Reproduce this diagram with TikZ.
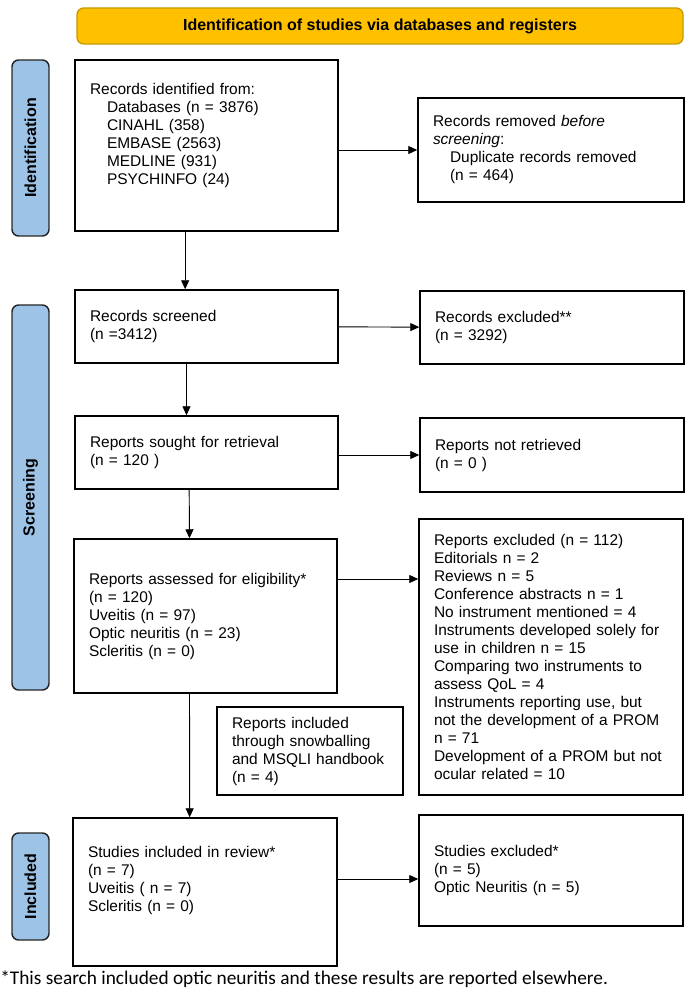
\documentclass[tikz,border=0pt]{standalone}
\usepackage{fontspec}
\setmainfont{Liberation Sans}
\newfontfamily\notefont{Carlito}
\usetikzlibrary{arrows.meta}

\newdimen\unitpx \unitpx=0.75pt
\newcommand\subind{\hspace*{17\unitpx}}
\definecolor{headgold}{HTML}{FFC000}
\definecolor{headedge}{HTML}{C49A00}
\definecolor{tabblue}{HTML}{9DC3E6}

\tikzset{
  x=0.75pt, y=-0.75pt, % one unit is one pixel, y runs down
  box/.style={draw, line width=1.1pt, align=left, inner xsep=15\unitpx, inner ysep=0pt,
    font=\fontsize{11.6}{13.5}\selectfont},
  head/.style={draw=headedge, fill=headgold, line width=1pt, rounded corners=5pt,
    minimum width=606\unitpx, minimum height=36\unitpx, font=\bfseries\fontsize{12}{14}\selectfont},
  tab/.style={draw=black!85, fill=tabblue, line width=1.1pt, rounded corners=5pt, rotate=90,
    minimum height=37\unitpx, inner sep=0pt, font=\bfseries\fontsize{12}{14}\selectfont},
  arr/.style={-{Triangle[length=6.75pt,width=6pt]}, line width=0.7pt}, % the connectors
}

\begin{document}
\begin{tikzpicture}
    \useasboundingbox (0,0) rectangle (685,994);

    \node[head] (head) at (380,26) {Identification of studies via databases and registers};

    % phase tabs
    \node[tab, minimum width=176\unitpx] (tabid) at (30.5,148) {Identification};
    \node[tab, minimum width=385\unitpx] (tabscr) at (30.5,497.5) {Screening};
    \node[tab, minimum width=107\unitpx] (tabinc) at (30.5,886.5) {Included};

    % left column
    \node[box, text width=233\unitpx, minimum height=171\unitpx] (ident) at (206.5,145.5)
      {Records identified from:\\
       \subind Databases (n = 3876)\\
       \subind CINAHL (358)\\
       \subind EMBASE (2563)\\
       \subind MEDLINE (931)\\
       \subind PSYCHINFO (24)\\[6\unitpx]\mbox{}};
    \node[box, text width=233\unitpx, minimum height=73\unitpx] (screened) at (206.5,326.5)
      {Records screened\\(n =3412)};
    \node[box, text width=233\unitpx, minimum height=73\unitpx] (sought) at (206.5,452.5)
      {Reports sought for retrieval\\(n = 120 )};
    \node[box, text width=233\unitpx, minimum height=154\unitpx] (assessed) at (205.5,616)
      {Reports assessed for eligibility*\\(n = 120)\\Uveitis (n = 97)\\Optic neuritis (n = 23)\\Scleritis (n = 0)};
    \node[box, text width=234\unitpx, minimum height=148\unitpx] (included) at (205,892)
      {Studies included in review*\\(n = 7)\\Uveitis ( n = 7)\\Scleritis (n = 0)\\[8\unitpx]\mbox{}};
    \node[box, text width=156\unitpx, minimum height=88\unitpx] (snow) at (310,751)
      {Reports included\\through snowballing\\and MSQLI handbook\\(n = 4)};

    % right column
    \node[box, text width=236\unitpx, minimum height=104\unitpx] (removed) at (551,150)
      {Records removed \textit{before}\\\textit{screening}:\\
       \subind Duplicate records removed\\
       \subind (n = 464)};
    \node[box, text width=234\unitpx, minimum height=73\unitpx] (excl) at (552,327.5)
      {Records excluded**\\(n = 3292)};
    \node[box, text width=234\unitpx, minimum height=74\unitpx] (notret) at (552,455)
      {Reports not retrieved\\(n = 0 )};
    \node[box, text width=234\unitpx, minimum height=276\unitpx] (rexcl) at (551,657)
      {Reports excluded (n = 112)\\Editorials n = 2\\Reviews n = 5\\Conference abstracts n = 1\\
       No instrument mentioned = 4\\Instruments developed solely for\\use in children n = 15\\
       Comparing two instruments to\\assess QoL = 4\\Instruments reporting use, but\\
       not the development of a PROM\\n = 71\\Development of a PROM but not\\ocular related = 10};
    \node[box, text width=234\unitpx, minimum height=111\unitpx] (sexcl) at (551,870.5)
      {Studies excluded*\\(n = 5)\\Optic Neuritis (n = 5)};

    \node[anchor=west, inner sep=0pt, font=\notefont\fontsize{14.5}{16}\selectfont] (note) at (0,979)
      {*This search included optic neuritis and these results are reported elsewhere.};

    % connectors
    \draw[arr] ([xshift=-16pt]ident.south) -- ([xshift=-16pt]screened.north);
    \draw[arr] ([xshift=-15pt]screened.south) -- ([xshift=-15pt]sought.north);
    \draw[arr] ([xshift=-13pt]sought.south) -- ([xshift=-12pt]assessed.north);
    \draw[arr] ([xshift=-12pt]assessed.south) -- ([xshift=-11.5pt]included.north);
    \draw[arr] (ident.east |- removed.west) -- (removed.west);
    \draw[arr] (screened) -- (excl);
    \draw[arr] (sought.east |- notret.west) -- (notret.west);
    \coordinate (ae) at ([yshift=27.75pt]assessed.east);
    \draw[arr] (ae) -- (ae -| rexcl.west);
    \coordinate (ie) at ([yshift=9.75pt]included.east);
    \draw[arr] (ie) -- (ie -| sexcl.west);
\end{tikzpicture}
\end{document}
